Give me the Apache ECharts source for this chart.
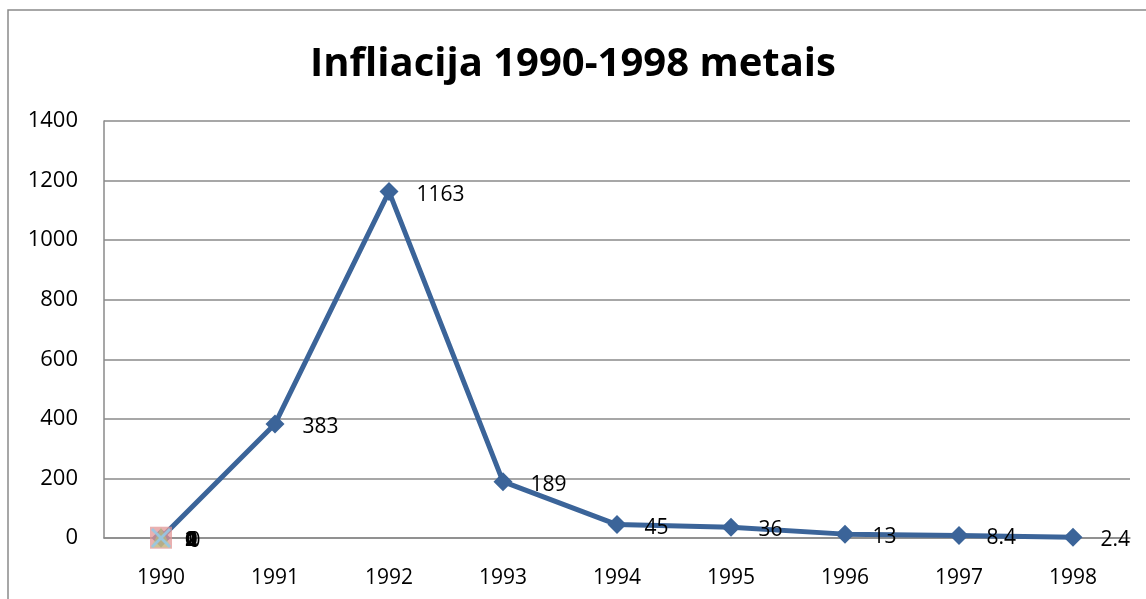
<!DOCTYPE html>
<html style="height: 100%">
    <head>
        <title>Infliacija 1990-1998 metais</title>
        <meta charset="utf-8">
    </head>
    <body style="height: 100%; margin: 0; background: #fff">
        <div id="container" style="width: 1146px; height: 599px"></div>

        <script type="text/javascript" src="https://cdn.jsdelivr.net/npm/echarts@6/dist/echarts.min.js"></script>
        <script type="text/javascript">
            var years = ['1990', '1991', '1992', '1993', '1994', '1995', '1996', '1997', '1998'];
            var inflation = [0, 383, 1163, 189, 45, 36, 13, 8.4, 2.4];
            // extra series that only have a point in 1990
            var extraA = [1];
            var extraB = [2];
            var extraC = [0];

            var font = 'Open Sans, sans-serif';
            var dom = document.getElementById("container");
            var myChart = echarts.init(dom);

            function extra(data, symbol, color, size) {
                return {
                    type: 'line',
                    data: data,
                    symbol: symbol,
                    symbolSize: size,
                    lineStyle: { width: 0 },
                    itemStyle: { color: color },
                    label: {
                        show: true,
                        position: 'right',
                        distance: 14,
                        offset: [0, 2],
                        fontFamily: font,
                        fontSize: 22,
                        fontWeight: 'bold',
                        color: '#000'
                    },
                    z: 3
                };
            }

            var option = {
                animation: false,
                graphic: [{
                    type: 'rect',
                    shape: { x: 8, y: 10, width: 1160, height: 620 },
                    style: { fill: 'none', stroke: '#8a8a8a', lineWidth: 1.5 },
                    silent: true
                }],
                title: {
                    text: 'Infliacija 1990-1998 metais',
                    left: 'center',
                    top: 40,
                    textStyle: {
                        fontFamily: font,
                        fontSize: 40,
                        fontWeight: 'bold',
                        color: '#000'
                    }
                },
                grid: { left: 104, right: 16, top: 121, bottom: 61 },
                xAxis: {
                    type: 'category',
                    data: years,
                    boundaryGap: true,
                    axisLine: { lineStyle: { color: '#8a8a8a', width: 1.5 } },
                    axisTick: { show: false },
                    axisLabel: { margin: 30, fontFamily: font, fontSize: 21, color: '#000' }
                },
                yAxis: {
                    type: 'value',
                    min: 0,
                    max: 1400,
                    interval: 200,
                    axisLine: { show: true, lineStyle: { color: '#8a8a8a', width: 1.5 } },
                    axisTick: { show: false },
                    splitLine: { lineStyle: { color: '#8a8a8a', width: 1.5 } },
                    axisLabel: {
                        margin: 26,
                        fontFamily: font,
                        fontSize: 22,
                        color: '#000',
                        formatter: function (v) { return String(v); }
                    }
                },
                series: [{
                    name: 'Infliacija',
                    type: 'line',
                    data: inflation,
                    symbol: 'diamond',
                    symbolSize: 19,
                    lineStyle: { color: '#3b6499', width: 5 },
                    itemStyle: { color: '#3b6499' },
                    label: {
                        show: true,
                        position: 'right',
                        distance: 18,
                        offset: [0, 3],
                        fontFamily: font,
                        fontSize: 21,
                        color: '#000'
                    },
                    z: 2
                },
                extra(extraA, 'rect', 'rgba(225,150,150,0.75)', 22),
                extra(extraB, 'triangle', 'rgba(180,210,120,0.5)', 20),
                extra(extraC, 'path://M0,1L1,0L5,4L9,0L10,1L6,5L10,9L9,10L5,6L1,10L0,9L4,5Z', 'rgba(150,200,230,0.9)', 20)
                ]
            };
            myChart.setOption(option);
        </script>
    </body>
</html>
